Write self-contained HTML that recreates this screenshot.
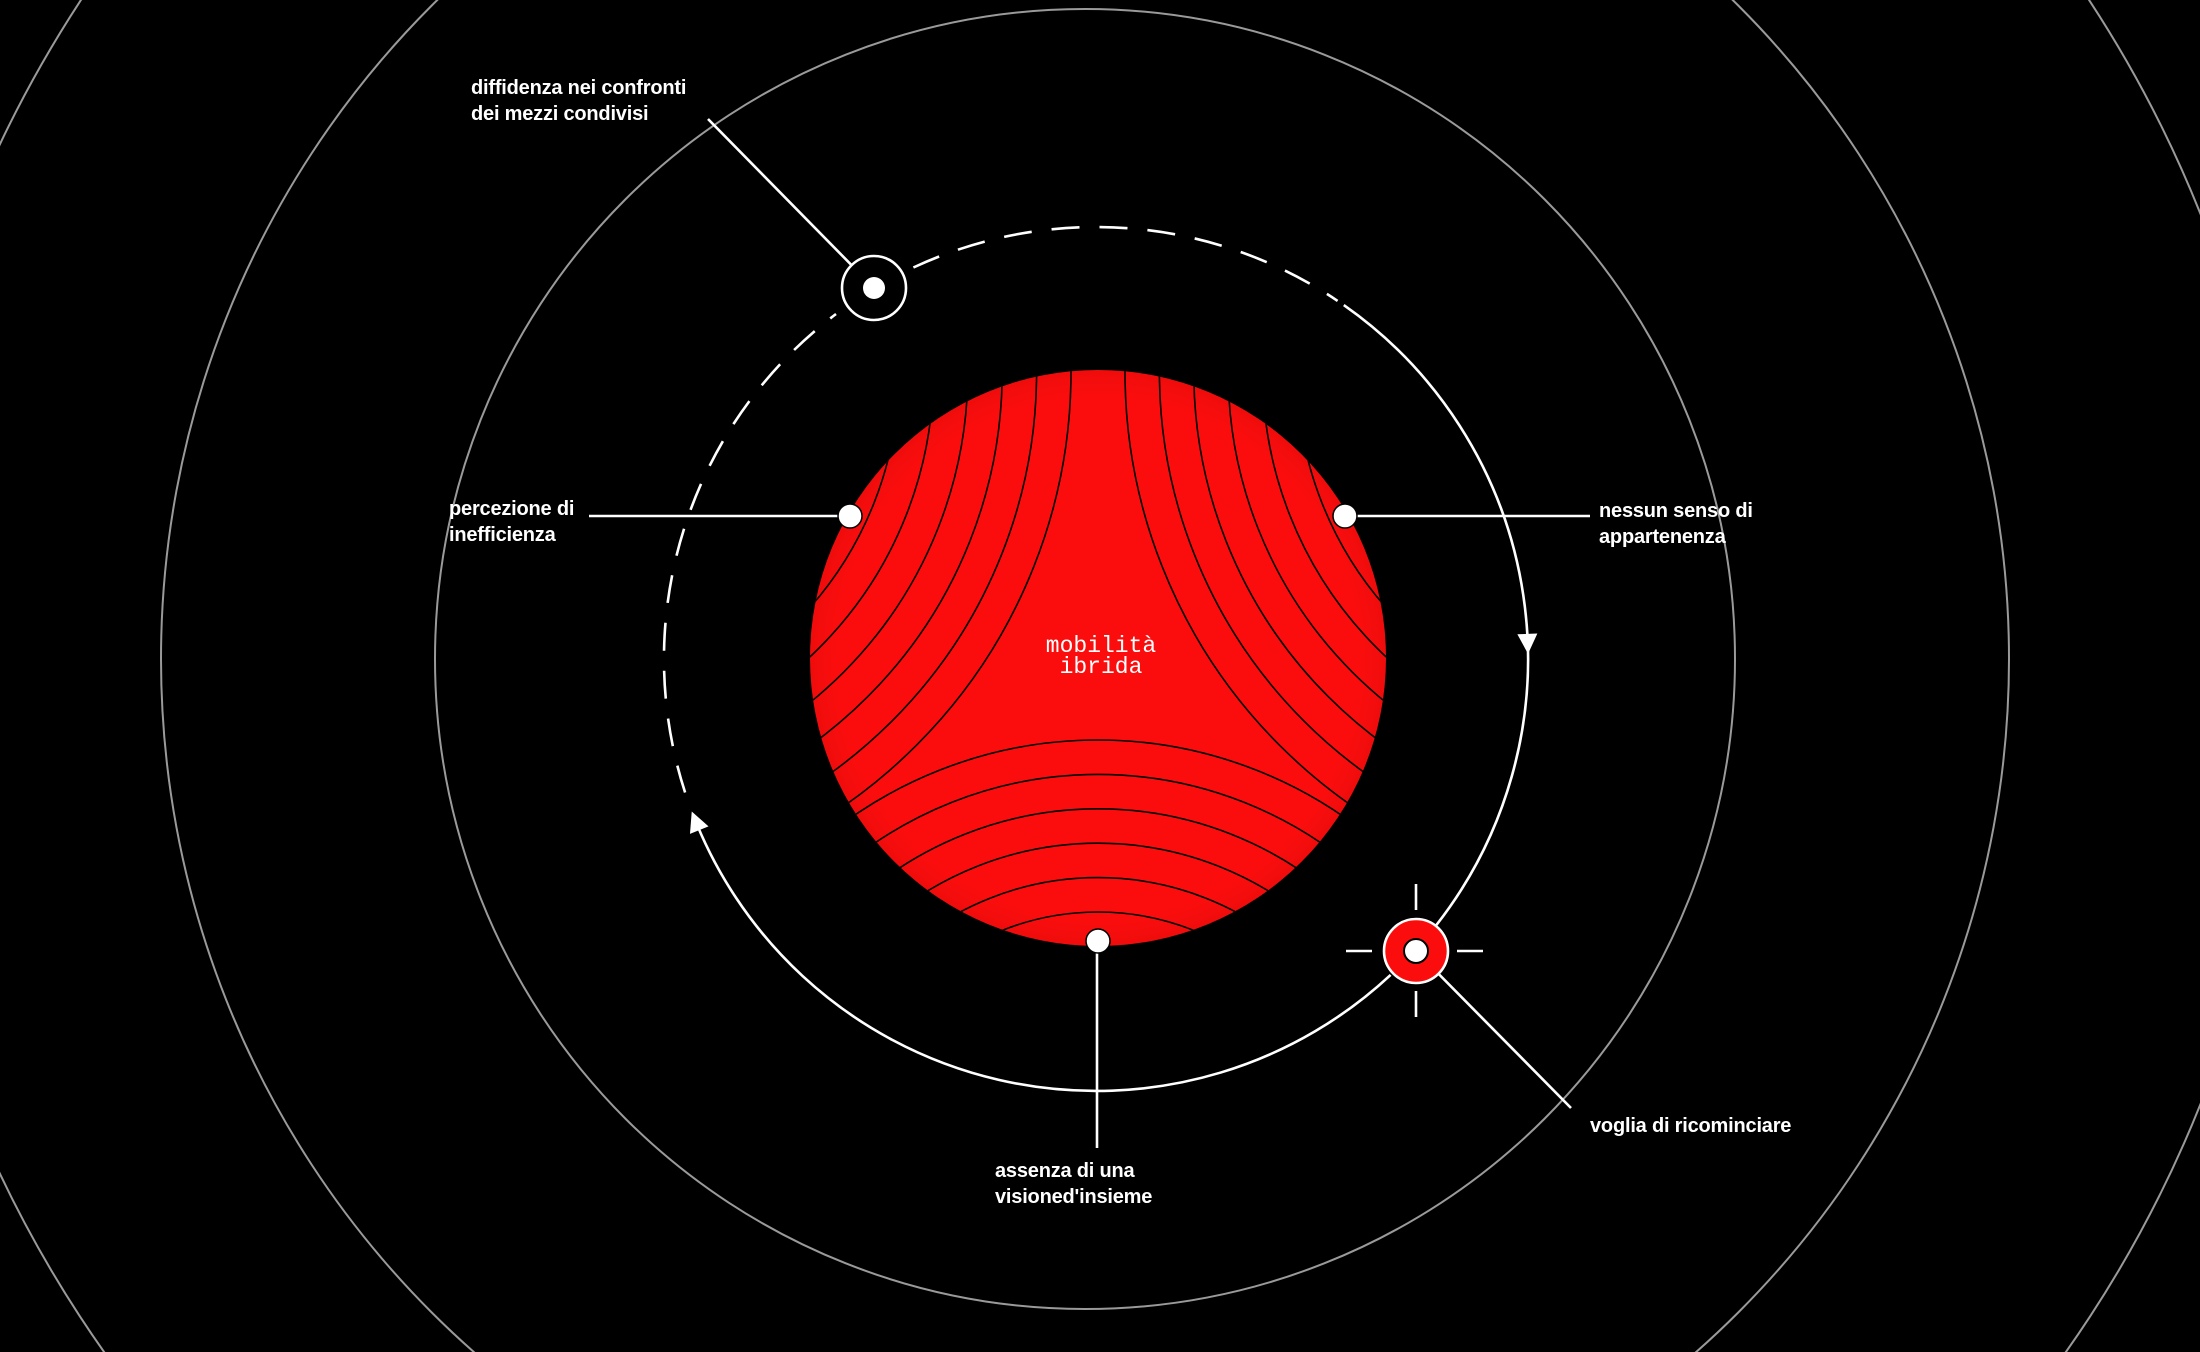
<!DOCTYPE html>
<html><head><meta charset="utf-8">
<style>
html,body{margin:0;padding:0;background:#000;width:2200px;height:1352px;overflow:hidden;}
body{position:relative;}
svg{position:absolute;left:0;top:0;overflow:hidden;display:block;}
.lbl{font-family:"Liberation Sans",sans-serif;font-weight:bold;font-size:20px;fill:#fff;letter-spacing:-0.2px;}
.core{font-family:"Liberation Mono",monospace;font-size:23px;fill:#fff;}
</style></head>
<body>
<svg id="chart" width="2200" height="1352" viewBox="0 0 2200 1352">
<defs>
<clipPath id="coreClip"><circle cx="1098" cy="658" r="288"/></clipPath>
<radialGradient id="shade" cx="0.5" cy="0.5" r="0.5">
<stop offset="0.9" stop-color="#000" stop-opacity="0"/>
<stop offset="1" stop-color="#000" stop-opacity="0.05"/>
</radialGradient>
</defs>
<g id="rings"></g>
<g id="core">
<circle cx="1098" cy="658" r="288" fill="#fc0d0d"/>
<g id="coreArcs" clip-path="url(#coreClip)" fill="none" stroke="#000" stroke-width="1.6"></g>
<circle cx="1098" cy="658" r="288" fill="url(#shade)"/>
<text class="core" x="1101" y="652" text-anchor="middle">mobilità</text>
<text class="core" x="1101" y="673" text-anchor="middle">ibrida</text>
</g>
<g id="orbit" fill="none" stroke="#fff" stroke-width="2.6"></g>
<g id="marks"></g>
</svg>
<script>
const NS='http://www.w3.org/2000/svg';
const ringRadii=[650,924,1201];
const orbitC=[1096,659], orbitR=432;
const labels=[
 {t:['diffidenza nei confronti','dei mezzi condivisi'],x:471,y:94,name:'label-diffidenza'},
 {t:['percezione di','inefficienza'],x:449,y:515,name:'label-percezione'},
 {t:['nessun senso di','appartenenza'],x:1599,y:517,name:'label-appartenenza'},
 {t:['assenza di una','visioned\'insieme'],x:995,y:1177,name:'label-assenza'},
 {t:['voglia di ricominciare'],x:1590,y:1132,name:'label-voglia'}
];
function el(tag,attrs,parent){const e=document.createElementNS(NS,tag);for(const k in attrs)e.setAttribute(k,attrs[k]);parent.appendChild(e);return e;}
const rings=document.getElementById('rings');
ringRadii.forEach((r,i)=>{
 const c=el('circle',{cx:1085,cy:659,r:r,fill:'none',stroke:'#9a9a9a','stroke-width':2},rings);
 
 
});
const arcs=document.getElementById('coreArcs');
const fam=[[543,372],[1653,372]];
fam.forEach(c=>{for(let i=0;i<6;i++){el('circle',{cx:c[0],cy:c[1],r:356+i*34.4},arcs);}});
for(let i=0;i<6;i++){el('circle',{cx:1098,cy:1171,r:259+i*34.4},arcs);}
function pt(a){return [orbitC[0]+orbitR*Math.cos(a*Math.PI/180),orbitC[1]+orbitR*Math.sin(a*Math.PI/180)];}
function arcPath(a0,a1){const r=orbitR;
 const s=pt(a0),e=pt(a1);const large=Math.abs(a1-a0)>180?1:0;const sweep=a1>a0?1:0;
 return `M${s[0].toFixed(1)} ${s[1].toFixed(1)} A${r} ${r} 0 ${large} ${sweep} ${e[0].toFixed(1)} ${e[1].toFixed(1)}`;}
const orbit=document.getElementById('orbit');
let p=el('path',{d:arcPath(-55,38)},orbit);

p=el('path',{d:arcPath(47,159)},orbit);

p=el('path',{d:arcPath(162,233),'stroke-dasharray':'28 20'},orbit);

p=el('path',{d:arcPath(245,304),'stroke-dasharray':'28 20'},orbit);

const marks=document.getElementById('marks');
function line(x1,y1,x2,y2,name){const l=el('line',{x1,y1,x2,y2,stroke:'#fff','stroke-width':2.6},marks);}
line(589,516,850,516,'leader-percezione');
line(1345,516,1590,516,'leader-appartenenza');
line(1097,941,1097,1148,'leader-assenza');
line(708,119,874,288,'leader-diffidenza');
line(1416,951,1571,1108,'leader-voglia');
// arrows along orbit, pointing in clockwise direction
function arrow(ang,name){const [x,y]=pt(ang);const rot=ang+180; // tangent direction (clockwise) = ang+90; triangle drawn pointing +x
 const a=el('polygon',{points:'10,0 -10,-10 -10,10',fill:'#fff',transform:`translate(${x.toFixed(1)} ${y.toFixed(1)}) rotate(${ang+90})`},marks);
 }
arrow(-2,'orbit-arrow-down');
arrow(158,'orbit-arrow-up');
// dots on core
[[850,516],[1345,516],[1098,941]].forEach(d=>{const c=el('circle',{cx:d[0],cy:d[1],r:12,fill:'#fff',stroke:'#000','stroke-width':1.5},marks);
 });
// diffidenza marker
let c=el('circle',{cx:874,cy:288,r:32,fill:'#000',stroke:'#fff','stroke-width':2.6},marks);

c=el('circle',{cx:874,cy:288,r:11,fill:'#fff'},marks);

// target marker
line(1416,884,1416,910,'target-tick');line(1416,991,1416,1017,'target-tick');
line(1346,951,1372,951,'target-tick');line(1457,951,1483,951,'target-tick');
c=el('circle',{cx:1416,cy:951,r:32,fill:'#fc0d0d',stroke:'#fff','stroke-width':2.6},marks);

c=el('circle',{cx:1416,cy:951,r:12,fill:'#fff',stroke:'#000','stroke-width':2},marks);

labels.forEach(L=>{const t=el('text',{class:'lbl',x:L.x,y:L.y},marks);
 
 L.t.forEach((s,i)=>{const ts=el('tspan',{x:L.x,dy:i?26:0},t);ts.textContent=s;});});
</script>
</body></html>
